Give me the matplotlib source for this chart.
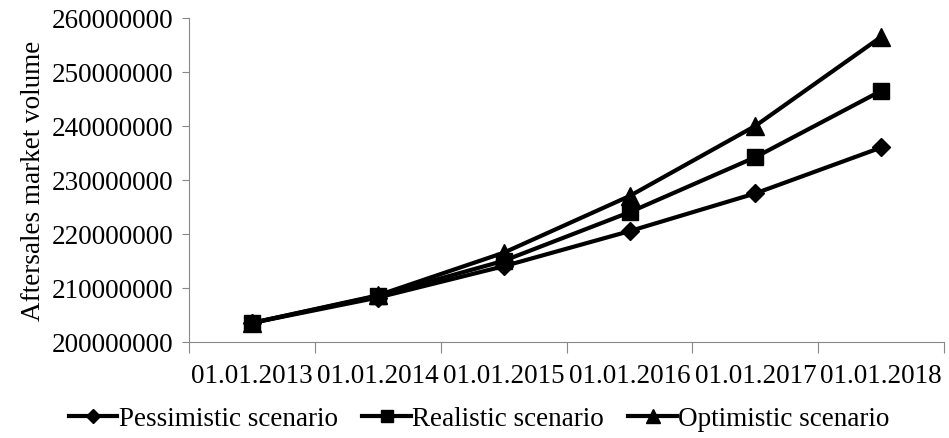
import matplotlib.pyplot as plt
from matplotlib.ticker import FixedLocator, NullFormatter

plt.rcParams['font.family'] = ['Liberation Serif', 'DejaVu Serif']

dates = ['01.01.2013', '01.01.2014', '01.01.2015', '01.01.2016', '01.01.2017', '01.01.2018']
pessimistic = [203.5e6, 208.2e6, 214.0e6, 220.5e6, 227.5e6, 236.0e6]
realistic = [203.5e6, 208.5e6, 215.0e6, 224.0e6, 234.2e6, 246.5e6]
optimistic = [203.5e6, 208.6e6, 216.5e6, 227.0e6, 240.0e6, 256.5e6]

fig = plt.figure(figsize=(9.49, 4.39), dpi=100)
ax = fig.add_axes([0.199, 0.219, 0.796, 0.738])

x = list(range(len(dates)))
ax.plot(x, pessimistic, color='black', lw=3, marker='D', ms=9, label='Pessimistic scenario')
ax.plot(x, realistic, color='black', lw=3, marker='s', ms=11.5, label='Realistic scenario')
ax.plot(x, optimistic, color='black', lw=3, marker='^', ms=13, label='Optimistic scenario')

ax.set_xlim(-0.5, len(dates) - 0.5)
ax.set_ylim(200e6, 260e6)
ax.set_yticks([200e6 + i * 10e6 for i in range(7)])
ax.set_yticklabels(['%d' % (200000000 + i * 10000000) for i in range(7)], fontsize=19.5)

ax.xaxis.set_major_locator(FixedLocator([i - 0.5 for i in range(len(dates) + 1)]))
ax.xaxis.set_major_formatter(NullFormatter())
ax.set_xticks(x, minor=True)
ax.set_xticklabels(dates, minor=True, fontsize=19.5)
ax.tick_params(axis='x', which='minor', length=0, pad=15)
ax.tick_params(axis='x', which='major', length=8, color='#888888')
ax.tick_params(axis='y', length=5, color='#888888', pad=6)

for s in ['top', 'right']:
    ax.spines[s].set_visible(False)
for s in ['left', 'bottom']:
    ax.spines[s].set_color('#888888')

ax.set_ylabel('Aftersales market volume', fontsize=19.5, labelpad=4)

fig.legend(loc='lower center', ncol=3, frameon=False, fontsize=19.5, handlelength=1.8,
           handletextpad=0.05, columnspacing=0.9, bbox_to_anchor=(0.505, -0.04),
           markerscale=0.75)

fig.savefig('out.png', dpi=100)
